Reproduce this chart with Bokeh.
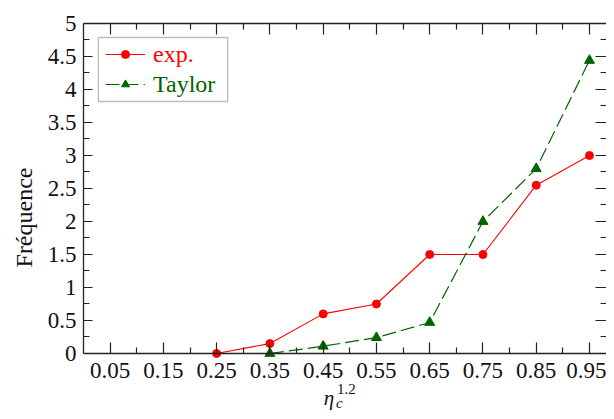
from bokeh.plotting import figure
from bokeh.models import (Range1d, LinearAxis, FixedTicker, Legend, LegendItem,
                          Label, BoxAnnotation)
from bokeh.embed import file_html
from bokeh.resources import INLINE

# ---- data ----
x_exp = [0.25, 0.35, 0.45, 0.55, 0.65, 0.75, 0.85, 0.95]
y_exp = [0.0, 0.15, 0.6, 0.75, 1.5, 1.5, 2.55, 3.0]
x_tay = [0.35, 0.45, 0.55, 0.65, 0.75, 0.85, 0.95]
y_tay = [0.0, 0.11, 0.24, 0.47, 2.0, 2.8, 4.44]
x_major = [0.05, 0.15, 0.25, 0.35, 0.45, 0.55, 0.65, 0.75, 0.85, 0.95]
x_minor = [0.1, 0.2, 0.3, 0.4, 0.5, 0.6, 0.7, 0.8, 0.9]
y_major = [0, 0.5, 1, 1.5, 2, 2.5, 3, 3.5, 4, 4.5, 5]
y_minor = [0.25, 0.75, 1.25, 1.75, 2.25, 2.75, 3.25, 3.75, 4.25, 4.75]
y_labels = {0: "0", 0.5: "0.5", 1: "1", 1.5: "1.5", 2: "2", 2.5: "2.5",
            3: "3", 3.5: "3.5", 4: "4", 4.5: "4.5", 5: "5"}
series_names = ["exp.", "Taylor"]
x_title = ["η", "c", "1.2"]
y_title = "Fréquence"

FONT = "Liberation Serif"
AX = "#222222"
TXT = "#111111"
RED = "#ff0000"
GREEN = "#006400"

# frame spans down to the bottom of the canvas so the x title can live in it;
# the x axis itself is pinned at y = 0
p = figure(width=606, height=411, output_backend="svg", toolbar_location=None,
           x_range=Range1d(0, 0.982), y_range=Range1d(-0.879, 5),
           x_axis_location=None, y_axis_location=None,
           min_border_left=83, min_border_right=0, min_border_top=23,
           min_border_bottom=0)
p.grid.visible = False
p.outline_line_color = None
p.background_fill_color = "white"


def style(ax, major=11, minor=6):
    ax.axis_line_color = AX
    ax.axis_line_width = 1.3
    ax.major_tick_line_color = AX
    ax.minor_tick_line_color = AX
    ax.major_tick_line_width = 1.2
    ax.minor_tick_line_width = 1.2
    ax.major_tick_in = major
    ax.major_tick_out = 0
    ax.minor_tick_in = minor
    ax.minor_tick_out = 0
    ax.major_label_text_font = FONT
    ax.major_label_text_color = TXT
    ax.major_label_text_font_size = "23px"


def hide_labels(ax, ticks):
    ax.major_label_overrides = {t: "" for t in ticks}
    ax.major_label_text_color = None
    ax.major_label_text_font_size = "12px"
    ax.major_label_standoff = 0


xt = FixedTicker(ticks=x_major, minor_ticks=x_minor)
yt = FixedTicker(ticks=y_major, minor_ticks=y_minor)

bottom = LinearAxis(ticker=xt, fixed_location=0)
style(bottom, major=11, minor=6)
bottom.major_label_standoff = 10
p.add_layout(bottom, "below")

top = LinearAxis(ticker=xt)
style(top, major=11, minor=6)
hide_labels(top, x_major)
p.add_layout(top, "above")

left = LinearAxis(ticker=yt, axis_label=y_title, bounds=(0, 5))
style(left, major=9, minor=6)
left.major_label_overrides = y_labels
left.major_label_standoff = 7
left.axis_label_text_font = FONT
left.axis_label_text_font_style = "normal"
left.axis_label_text_font_size = "24px"
left.axis_label_text_color = TXT
left.axis_label_standoff = 8
p.add_layout(left, "left")

right = LinearAxis(ticker=yt, bounds=(0, 5))
style(right, major=11, minor=6)
hide_labels(right, y_major)
right.axis_line_color = None
p.add_layout(right, "right")

# ---- series ----
l1 = p.line(x_exp, y_exp, line_color=RED, line_width=1.1)
m1 = p.scatter(x_exp, y_exp, marker="circle", size=8, fill_color=RED, line_color=RED)
l2 = p.line(x_tay, y_tay, line_color=GREEN, line_width=1.2, line_dash="14 5")
m2 = p.scatter(x_tay, y_tay, marker="triangle", size=10, fill_color=GREEN, line_color=GREEN)

# ---- x axis title eta_c^{1.2} ----
p.add_layout(Label(x=0.451, y=-0.682, text=x_title[0], text_font=FONT,
                   text_font_style="italic", text_font_size="21px",
                   text_color=TXT, text_baseline="alphabetic"))
p.add_layout(Label(x=0.474, y=-0.755, text=x_title[1], text_font=FONT,
                   text_font_style="italic", text_font_size="15px",
                   text_color=TXT, text_baseline="alphabetic"))
p.add_layout(Label(x=0.476, y=-0.545, text=x_title[2], text_font=FONT,
                   text_font_size="15px", text_color=TXT,
                   text_baseline="alphabetic"))

# ---- legend ----
box = BoxAnnotation(left=0.028, right=0.2707, top=4.788, bottom=3.818,
                    fill_color="white", fill_alpha=1.0,
                    line_color=AX, line_width=1.3, level="overlay")
p.add_layout(box)


def mk_legend(label, rends, color, loc):
    return Legend(items=[LegendItem(label=label, renderers=rends)], location=loc,
                  label_text_font=FONT, label_text_font_size="24px",
                  label_text_color=color, glyph_width=40, glyph_height=20,
                  label_height=30, label_standoff=8, padding=0, margin=0,
                  spacing=0, border_line_color=None, background_fill_alpha=0)


p.add_layout(mk_legend(series_names[0], [l1, m1], RED, (22, 342)))
p.add_layout(mk_legend(series_names[1], [l2, m2], GREEN, (22, 312)))

open("out.html", "w").write(file_html(p, INLINE))
